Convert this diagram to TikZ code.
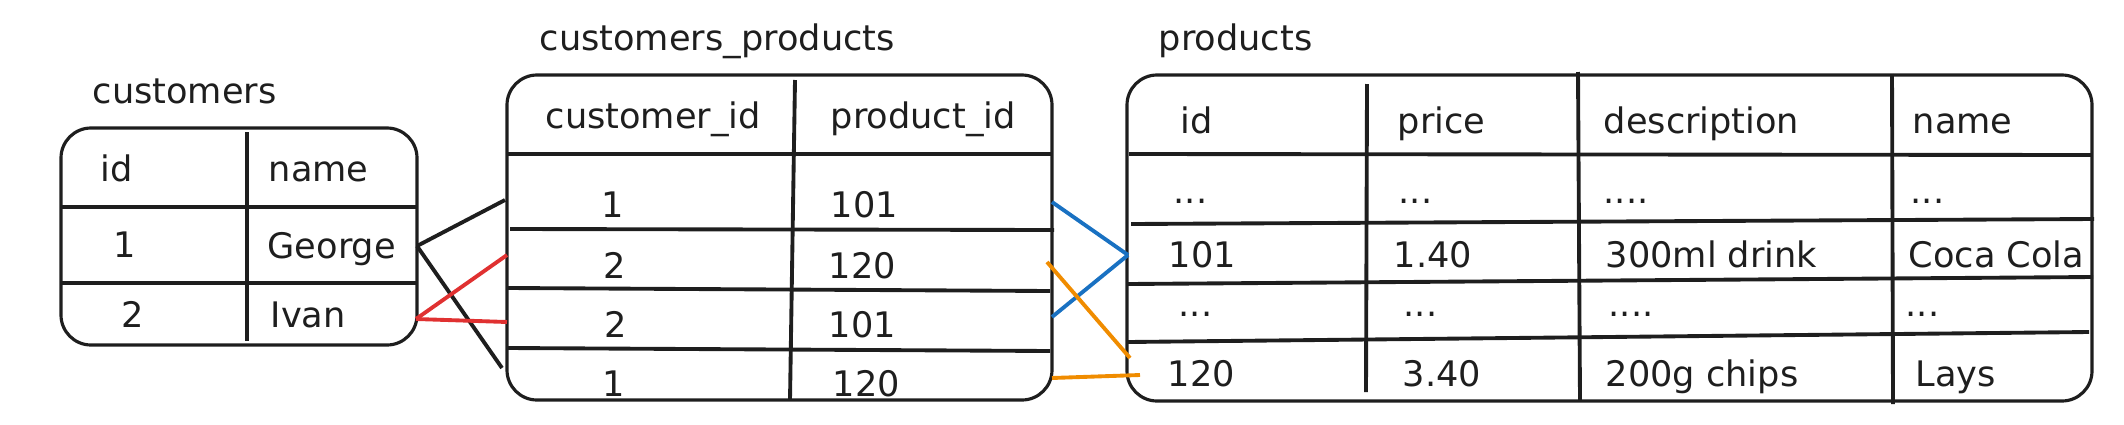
\documentclass[tikz,border=0pt]{standalone}
\usepackage{fontspec}
\setmainfont{DejaVu Sans}
\usepackage{xcolor}
\definecolor{ink}{HTML}{1E1E1E}
\definecolor{linkred}{HTML}{E03131}
\definecolor{linkblue}{HTML}{1971C2}
\definecolor{linkorange}{HTML}{F08C00}

\begin{document}
\begin{tikzpicture}[x=0.01cm,y=-0.01cm,
    txt/.style={anchor=base west,inner sep=0pt,text=ink},
    tbl/.style={draw=ink,line width=0.9pt,rounded corners=0.3cm},
    sep/.style={draw=ink,line width=1.1pt},
    link/.style={line width=1.1pt}]
    \useasboundingbox (0,0) rectangle (2124,424);

    % customers
    \draw[tbl] (61,128) rectangle (417,345);
    \draw[sep] (247,132) -- (247,341);
    \draw[sep] (62,207) -- (416,207);
    \draw[sep] (62,283) -- (416,283);
    \node[txt] (custT) at (92,103) {customers};
    \node[txt] (cidH) at (100,181) {id};
    \node[txt] (cnameH) at (268,181) {name};
    \node[txt] (cid1) at (113,257) {1};
    \node[txt] (cname1) at (267,258) {George};
    \node[txt] (cid2) at (121,327) {2};
    \node[txt] (cname2) at (270,327) {Ivan};

    % customers_products
    \draw[tbl] (507,75) rectangle (1052,400);
    \draw[sep] (795,80) -- (790,400);
    \draw[sep] (508,154) -- (1051,154);
    \draw[sep] (510,229) -- (1054,230);
    \draw[sep] (508,288) -- (1050,291);
    \draw[sep] (508,348) -- (1050,351);
    \node[txt] (cpT) at (539,50) {customers\_products};
    \node[txt] (cpcH) at (545,128) {customer\_id};
    \node[txt] (cppH) at (830,128) {product\_id};
    \node[txt] (cpc1) at (601,217) {1};
    \node[txt] (cpp1) at (830,217) {101};
    \node[txt] (cpc2) at (603,278) {2};
    \node[txt] (cpp2) at (828,278) {120};
    \node[txt] (cpc3) at (604,337) {2};
    \node[txt] (cpp3) at (828,337) {101};
    \node[txt] (cpc4) at (602,396) {1};
    \node[txt] (cpp4) at (832,396) {120};

    % products
    \draw[tbl] (1127,75) rectangle (2092,401);
    \draw[sep] (1367,84) -- (1366,392);
    \draw[sep] (1578,72) -- (1580,401);
    \draw[sep] (1892,74) -- (1893,404);
    \draw[sep] (1129,154) -- (2091,155);
    \draw[sep] (1131,224) -- (2094,219);
    \draw[sep] (1128,284) -- (2093,277);
    \draw[sep] (1128,342) -- (2089,332);
    \node[txt] (prT) at (1158,50) {products};
    \node[txt] (pidH) at (1180,133) {id};
    \node[txt] (ppriceH) at (1397,133) {price};
    \node[txt] (pdescH) at (1603,133) {description};
    \node[txt] (pnameH) at (1912,133) {name};
    \node[txt] (pid1) at (1173,203) {...};
    \node[txt] (pprice1) at (1398,203) {...};
    \node[txt] (pdesc1) at (1603,203) {....};
    \node[txt] (pname1) at (1910,203) {...};
    \node[txt] (pid2) at (1168,267) {101};
    \node[txt] (pprice2) at (1393,267) {1.40};
    \node[txt] (pdesc2) at (1605,267) {300ml drink};
    \node[txt] (pname2) at (1908,267) {Coca Cola};
    \node[txt] (pid3) at (1178,316) {...};
    \node[txt] (pprice3) at (1403,316) {...};
    \node[txt] (pdesc3) at (1608,316) {....};
    \node[txt] (pname3) at (1905,316) {...};
    \node[txt] (pid4) at (1167,386) {120};
    \node[txt] (pprice4) at (1402,386) {3.40};
    \node[txt] (pdesc4) at (1605,386) {200g chips};
    \node[txt] (pname4) at (1915,386) {Lays};

    % links
    \coordinate (george) at (417,246);
    \coordinate (ivan) at (416,319);
    \coordinate (cpL1) at (505,200);
    \coordinate (cpL2) at (507,255);
    \coordinate (cpL3) at (507,322);
    \coordinate (cpL4) at (502,368);
    \coordinate (cpR1) at (1052,202);
    \coordinate (cpR2) at (1047,262);
    \coordinate (cpR3) at (1052,317);
    \coordinate (cpR4) at (1052,378);
    \coordinate (p101) at (1128,255);
    \coordinate (p120a) at (1130,358);
    \coordinate (p120b) at (1140,375);
    \draw[link,ink] (george) -- (cpL1);
    \draw[link,ink] (george) -- (cpL4);
    \draw[link,linkred] (ivan) -- (cpL2);
    \draw[link,linkred] (ivan) -- (cpL3);
    \draw[link,linkblue] (cpR1) -- (p101);
    \draw[link,linkblue] (cpR3) -- (p101);
    \draw[link,linkorange] (cpR2) -- (p120a);
    \draw[link,linkorange] (cpR4) -- (p120b);
\end{tikzpicture}
\end{document}
